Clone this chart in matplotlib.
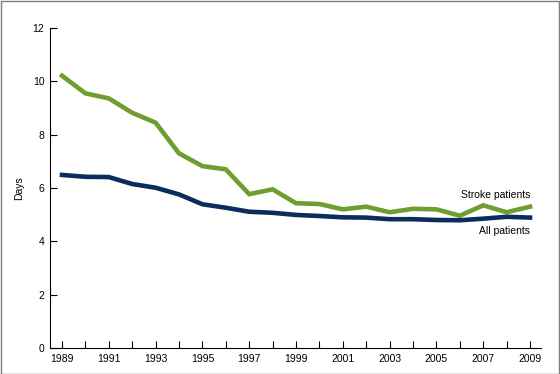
import matplotlib
matplotlib.use("Agg")
import matplotlib.pyplot as plt
from matplotlib.patches import Rectangle

years = list(range(1989, 2010))
stroke = [10.21, 9.55, 9.36, 8.82, 8.45, 7.30, 6.82, 6.70, 5.77, 5.95, 5.43,
          5.40, 5.20, 5.30, 5.09, 5.22, 5.20, 4.96, 5.35, 5.09, 5.30]
allp = [6.49, 6.42, 6.41, 6.15, 6.01, 5.76, 5.39, 5.26, 5.11, 5.07, 4.99,
        4.95, 4.90, 4.89, 4.83, 4.83, 4.80, 4.79, 4.85, 4.92, 4.89]
yticks = [0, 2, 4, 6, 8, 10, 12]
xtick_labels = [1989, 1991, 1993, 1995, 1997, 1999, 2001, 2003, 2005, 2007, 2009]

plt.rcParams['font.family'] = ['Liberation Sans', 'DejaVu Sans']

fig = plt.figure(figsize=(5.6, 3.74), dpi=100)
ax = fig.add_axes([50/560, 1-348/374, (541-50)/560, (348-28)/374])

green = '#6f9e30'
navy = '#0b2d5e'
ax.plot(years, stroke, color=green, lw=3.3, solid_joinstyle='miter')
ax.plot(years, allp, color=navy, lw=3.3, solid_joinstyle='miter')

ax.set_xlim(1988.487, 2009.47)
ax.set_ylim(0, 12)
ax.set_yticks(yticks)
ax.set_yticklabels([str(v) for v in yticks])
ax.set_xticks(years)
ax.set_xticklabels([str(y) if y in xtick_labels else '' for y in years])
ax.tick_params(direction='in', length=5, width=0.8, labelsize=7.5, colors='black', pad=4)
ax.spines['top'].set_visible(False)
ax.spines['right'].set_visible(False)
for s in ['left', 'bottom']:
    ax.spines[s].set_linewidth(0.8)
ax.set_ylabel('Days', fontsize=7.5, labelpad=6)

ax.text(2009.0, 5.75, 'Stroke patients', ha='right', va='center', fontsize=7.5)
ax.text(2009.0, 4.4, 'All patients', ha='right', va='center', fontsize=7.5)

fig.patches.append(Rectangle((0.5/560, 0.5/374), 1-1.5/560, 1-1.5/374, transform=fig.transFigure,
                             fill=False, edgecolor='#7f7f7f', lw=1.0))
fig.savefig('out.png', dpi=100)
